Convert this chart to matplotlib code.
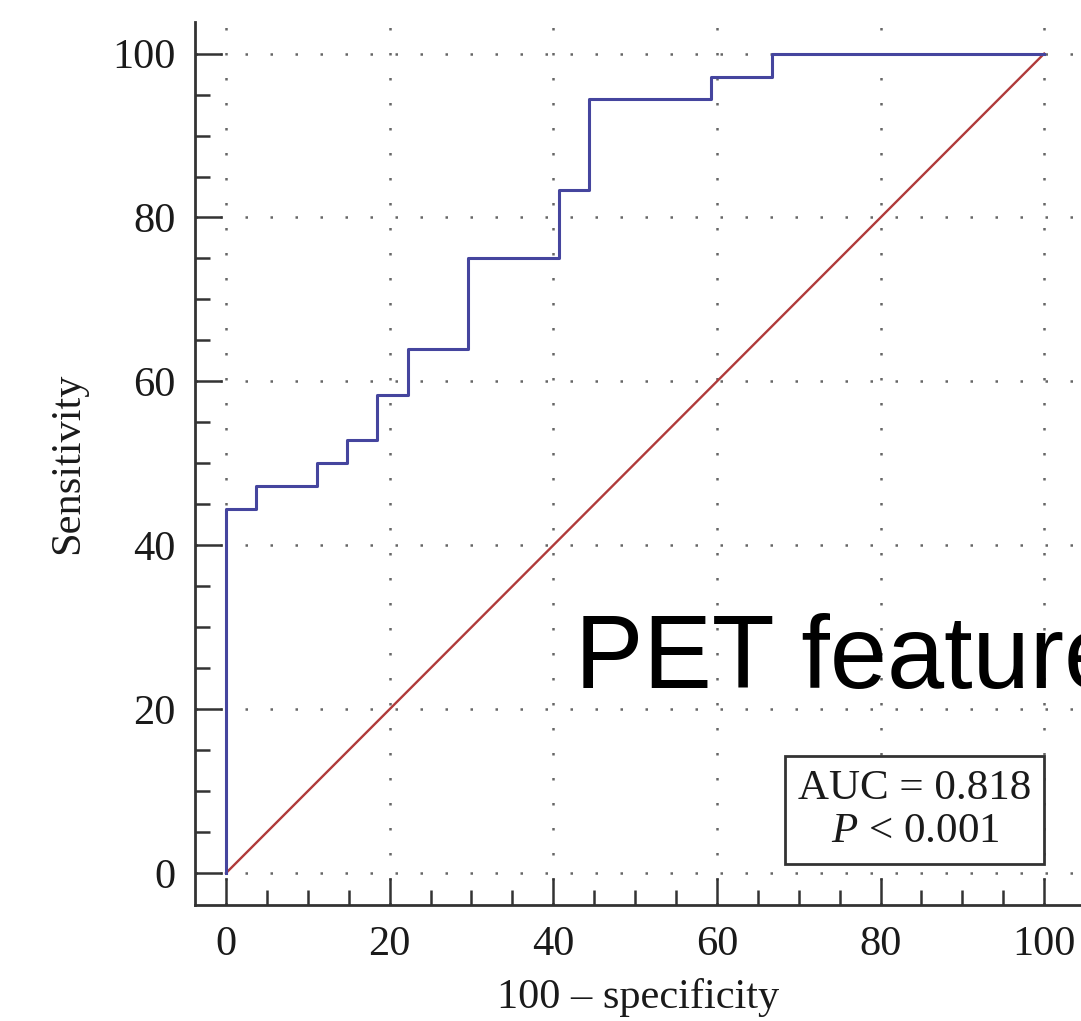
import numpy as np
import matplotlib
matplotlib.use("Agg")
import matplotlib.pyplot as plt
from matplotlib.ticker import MultipleLocator

plt.rcParams['font.family'] = ['Liberation Serif', 'DejaVu Serif']
plt.rcParams['mathtext.fontset'] = 'custom'
plt.rcParams['mathtext.rm'] = 'Liberation Serif'
plt.rcParams['mathtext.it'] = 'Liberation Serif:italic'

# ROC curve points (100 - specificity, sensitivity)
fpr = [0, 0, 3.7, 3.7, 11.1, 11.1, 14.8, 14.8, 18.5, 18.5, 22.2, 22.2,
       29.6, 29.6, 40.7, 40.7, 44.4, 44.4, 59.3, 59.3, 66.7, 66.7, 100]
tpr = [0, 44.4, 44.4, 47.2, 47.2, 50.0, 50.0, 52.8, 52.8, 58.3, 58.3, 63.9,
       63.9, 75.0, 75.0, 83.3, 83.3, 94.4, 94.4, 97.2, 97.2, 100, 100]
ref_x = [0, 100]
ref_y = [0, 100]
ticks = [0, 20, 40, 60, 80, 100]
auc_text = "AUC = 0.818\n$P$ < 0.001"

fig = plt.figure(figsize=(10.81, 10.21), dpi=100)
ax = fig.add_axes([0.1804, 0.1136, 0.8196, 0.8644])

ax.plot(ref_x, ref_y, color='#b03a3a', lw=1.7, zorder=3)
ax.plot(fpr, tpr, color='#45459e', lw=2.2, zorder=4)

ax.set_xlim(-3.79, 104.5)
ax.set_ylim(-3.9, 103.8)
ax.set_xticks(ticks)
ax.set_yticks(ticks)
ax.xaxis.set_minor_locator(MultipleLocator(5))
ax.yaxis.set_minor_locator(MultipleLocator(5))

for s in ['top', 'right']:
    ax.spines[s].set_visible(False)
for s in ['left', 'bottom']:
    ax.spines[s].set_color('#333333')
    ax.spines[s].set_linewidth(2)

ax.tick_params(which='major', direction='in', length=19.5, width=1.8, color='#333333',
               labelsize=30.5, labelcolor='#1a1a1a')
ax.tick_params(which='minor', direction='in', length=11, width=1.8, color='#333333')
ax.tick_params(axis='y', which='major', pad=14)
ax.tick_params(axis='x', which='major', pad=15)

ax.grid(True, which='major', color='#666666', linestyle=(0, (1, 9)), lw=1.8, zorder=1)

ax.set_xlabel("100 – specificity", fontsize=30.5, color='#1a1a1a', labelpad=10)
ax.set_ylabel("Sensitivity", fontsize=30.5, color='#1a1a1a', labelpad=18)

ax.text(84.2, 7.7, auc_text, fontsize=31, color='#1a1a1a', ha='center', va='center',
        multialignment='center', linespacing=1.15, zorder=5,
        bbox=dict(boxstyle='square,pad=0.3', fc='white', ec='#333333', lw=2))

ax.text(42.7, 22.6, "PET features", fontsize=74,
        family='Liberation Sans', color='black', ha='left', va='baseline', zorder=6)

fig.savefig("out.png", dpi=100)
